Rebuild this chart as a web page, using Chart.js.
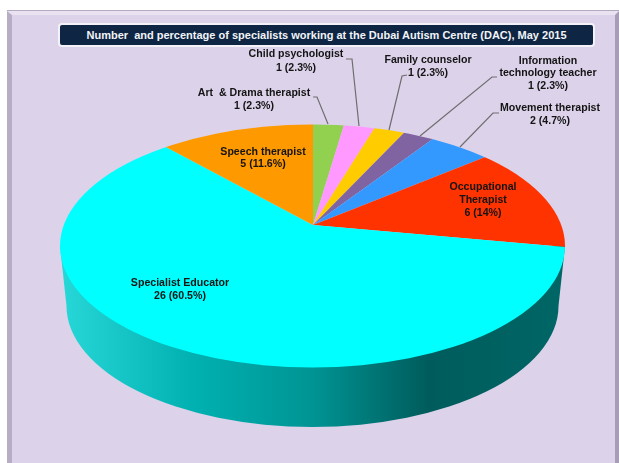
<!DOCTYPE html>
<html>
<head>
<meta charset="utf-8">
<style>
  html, body { margin: 0; height: 463px; background: #fff; overflow: hidden; }
  #page { position: relative; width: 630px; height: 480px; filter: blur(0.45px); }
  #panel {
    position: absolute; left: 7px; top: 11px; width: 612px; bottom: 0;
    box-sizing: border-box; background: #dcd2ea;
    border-top: 4px solid #e9e2f1; border-left: 5px solid #b7aec5; border-right: 4px solid #a79db6;
    box-shadow: 0 -1px 0 #b3aabf;
  }
  #title {
    position: absolute; left: 58px; top: 23px; width: 537px; height: 24px;
    box-sizing: border-box; background: #0e2543; border: 2px solid #f4f2f8; border-radius: 4px;
    color: #f2f4f8; font: bold 11px "Liberation Sans", Arial, sans-serif;
    line-height: 20px; text-align: center; white-space: pre;
  }
  canvas { position: absolute; left: 0; top: 0; }
</style>
</head>
<body>
<div id="page">
  <div id="panel"></div>
  <canvas id="chart" width="619" height="463"></canvas>
  <div id="title">Number  and percentage of specialists working at the Dubai Autism Centre (DAC), May 2015</div>
</div>
<script src="https://cdn.jsdelivr.net/npm/chart.js@4/dist/chart.umd.min.js"></script>
<script>
const specialties = ['Art  & Drama therapist', 'Child psychologist', 'Family counselor', 'Information technology teacher', 'Movement therapist', 'Occupational Therapist', 'Specialist Educator', 'Speech therapist'];
const counts = [1, 1, 1, 1, 2, 6, 26, 5];
const percents = ['2.3', '2.3', '2.3', '2.3', '4.7', '14', '60.5', '11.6'];
const sliceColors = ['#92d050', '#ff99ff', '#ffcc00', '#8064a2', '#3399ff', '#ff3300', '#00ffff', '#ff9900'];

// where each label sits: centre x, y of each line (names wrap as in the picture)
const labelBoxes = [
  { x: 254, ys: [93, 106] },
  { x: 296, ys: [54, 68] },
  { x: 428, ys: [60, 73] },
  { x: 548, ys: [61, 73, 86], wrap: ['Information', 'technology teacher'] },
  { x: 550, ys: [108, 121] },
  { x: 483, ys: [187, 200, 213], wrap: ['Occupational', 'Therapist'] },
  { x: 180, ys: [283, 296] },
  { x: 263, ys: [152, 164] },
];
const leaderLines = [
  [[313, 97], [317, 97], [328, 124]],
  [[346, 59], [352, 59], [359, 126]],
  [[407, 75], [402, 76], [389, 130]],
  [[497, 77], [492, 77], [420, 136]],
  [[499, 113], [493, 113], [460, 147]],
];

// the original is a tilted 3D pie: hub sits above the middle of the rim ellipse
const hub = { x: 313, y: 225, squash: 0.475 };
const rim = { x: 312.5, y: 246, rx: 252.5, ry: 121.5 };
const base = { x: 312.5, y: 306, rx: 246, ry: 121 };

const tiltedPie = {
  id: 'tiltedPie',
  beforeDatasetsDraw(chart) {
    const ctx = chart.ctx;
    const arc = chart.getDatasetMeta(0).data[0];

    const wall = ctx.createLinearGradient(60, 0, 565, 0);
    wall.addColorStop(0, '#28d8d8');
    wall.addColorStop(0.27, '#00b0b0');
    wall.addColorStop(0.5, '#009494');
    wall.addColorStop(0.66, '#006c6c');
    wall.addColorStop(0.73, '#005c5c');
    wall.addColorStop(1, '#006666');
    ctx.save();
    ctx.beginPath();
    ctx.moveTo(rim.x - rim.rx, rim.y);
    ctx.lineTo(base.x - base.rx, base.y);
    ctx.ellipse(base.x, base.y, base.rx, base.ry, 0, Math.PI, 0, true);
    ctx.lineTo(rim.x + rim.rx, rim.y);
    ctx.closePath();
    ctx.fillStyle = wall;
    ctx.fill();
    ctx.restore();

    ctx.save();
    ctx.beginPath();
    ctx.ellipse(rim.x, rim.y, rim.rx, rim.ry, 0, 0, Math.PI * 2);
    ctx.clip();
    ctx.translate(hub.x, hub.y);
    ctx.scale(1, hub.squash);
    ctx.translate(-arc.x, -arc.y);
  },
  afterDatasetsDraw(chart) {
    const ctx = chart.ctx;
    ctx.restore();

    ctx.strokeStyle = '#6e6e6e';
    ctx.lineWidth = 1.2;
    leaderLines.forEach((pts) => {
      ctx.beginPath();
      pts.forEach(([x, y], i) => (i ? ctx.lineTo(x, y) : ctx.moveTo(x, y)));
      ctx.stroke();
    });

    ctx.fillStyle = '#141414';
    ctx.font = 'bold 10.6px "Liberation Sans", Arial, sans-serif';
    ctx.textAlign = 'center';
    ctx.textBaseline = 'middle';
    specialties.forEach((name, i) => {
      const box = labelBoxes[i];
      const lines = [...(box.wrap || [name]), `${counts[i]} (${percents[i]}%)`];
      lines.forEach((line, j) => ctx.fillText(line, box.x, box.ys[j]));
    });
  },
};

new Chart(document.getElementById('chart'), {
  type: 'pie',
  data: {
    labels: specialties,
    datasets: [{ data: counts, backgroundColor: sliceColors, borderWidth: 0, radius: 330, clip: false }],
  },
  options: {
    responsive: false,
    animation: false,
    plugins: { legend: { display: false }, tooltip: { enabled: false } },
  },
  plugins: [tiltedPie],
});
</script>
</body>
</html>
